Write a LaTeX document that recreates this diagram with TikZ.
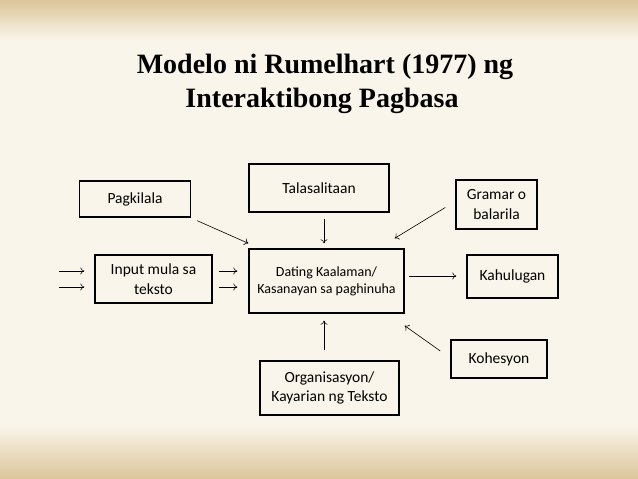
\documentclass[tikz,border=0pt]{standalone}
\usepackage{fontspec}
\usepackage{xcolor}
\usetikzlibrary{arrows.meta,calc}
\setmainfont{Carlito}
\newfontfamily\titlefont{Liberation Serif}
\definecolor{bgcream}{HTML}{FAF5EA}
\definecolor{bgtan}{HTML}{DCC59A}

\begin{document}
\begin{tikzpicture}[x=1pt, y=-1pt,
  box/.style={draw, line width=1.4pt, align=center, inner sep=0pt,
    font=\fontsize{15.5}{19.5}\selectfont},
  arr/.style={-{To[length=4pt,width=7pt]}, line width=0.6pt}]
  \useasboundingbox (0,0) rectangle (638,479);

  % Background
  \fill[bgcream] (0,0) rectangle (638,479);
  \shade[top color=bgtan, bottom color=bgcream] (0,0) rectangle (638,40);
  \shade[top color=bgcream, bottom color=bgtan] (0,425) rectangle (638,479);

  % Title
  \node[anchor=base, font=\titlefont\bfseries\fontsize{28}{33}\selectfont] (title) at (325,73) {Modelo ni Rumelhart (1977) ng};
  \node[anchor=base, font=\titlefont\bfseries\fontsize{28}{33}\selectfont] (subtitle) at (322,107) {Interaktibong Pagbasa};

  % Boxes
  \node[box, minimum width=111pt, minimum height=36pt] (pagkilala) at (135,199) {Pagkilala};
  \node[box, minimum width=140pt, minimum height=48pt] (tala) at (319,188) {Talasalitaan};
  \node[box, minimum width=81pt, minimum height=49pt] (gramar) at (496.5,204.5) {Gramar o\\balarila};
  \node[box, minimum width=117pt, minimum height=48pt] (input) at (153.5,279) {Input mula sa\\teksto};
  \node[box, minimum width=155pt, minimum height=64pt,
    font=\fontsize{14}{17}\selectfont] (dating) at (326.5,281) {Dating Kaalaman/\\Kasanayan sa paghinuha};
  \node[box, minimum width=91pt, minimum height=43pt] (kahulugan) at (512.5,276.5) {Kahulugan};
  \node[box, minimum width=96pt, minimum height=38pt] (kohesyon) at (499,359) {Kohesyon};
  \node[box, minimum width=139pt, minimum height=54pt] (org) at (329.5,388) {Organisasyon/\\Kayarian ng Teksto};

  % Input arrows
  \coordinate (src1) at (59,271);
  \coordinate (src2) at (59,287);
  \draw[arr, shorten >=10pt] (src1) -- (src1 -| input.west);
  \draw[arr, shorten >=10pt] (src2) -- (src2 -| input.west);
  \draw[arr, shorten <=6pt, shorten >=11pt] ([yshift=8pt]input.east) -- ([yshift=8pt]input.east -| dating.west);
  \draw[arr, shorten <=6pt, shorten >=11pt] ([yshift=-8pt]input.east) -- ([yshift=-8pt]input.east -| dating.west);

  % Arrows into the centre
  \draw[arr] ($(pagkilala.south east)+(6,3)$) -- ($(dating.north west)+(0,-5)$);
  \draw[arr, shorten <=6pt, shorten >=5pt] ([xshift=5pt]tala.south) -- ([xshift=5pt]tala.south |- dating.north);
  \draw[arr] ($(gramar.west)+(-10,3)$) -- ($(dating.north east)+(-10,-10)$);
  \draw[arr] ($(kohesyon.west)+(-10,-8)$) -- ($(dating.south east)+(0,12)$);
  \draw[arr, shorten <=10pt, shorten >=7pt] ([xshift=-5.5pt]org.north) -- ([xshift=-5.5pt]org.north |- dating.south);

  % Output arrow
  \draw[arr, shorten <=4pt, shorten >=10pt] ([yshift=5pt]dating.east) -- ([yshift=5pt]dating.east -| kahulugan.west);

\end{tikzpicture}
\end{document}
